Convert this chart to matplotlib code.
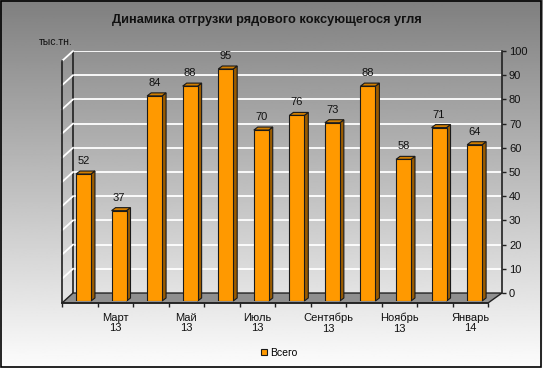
import numpy as np
import matplotlib
matplotlib.use("Agg")
import matplotlib.pyplot as plt
from matplotlib.patches import Polygon, Rectangle
from matplotlib.lines import Line2D

plt.rcParams['font.family'] = ['Liberation Sans', 'DejaVu Sans']

# ---- data ----
categories = ['Февраль\n13', 'Март\n13', 'Апрель\n13', 'Май\n13', 'Июнь\n13', 'Июль\n13',
              'Август\n13', 'Сентябрь\n13', 'Октябрь\n13', 'Ноябрь\n13', 'Декабрь\n13', 'Январь\n14']
values = [52, 37, 84, 88, 95, 70, 76, 73, 88, 58, 71, 64]
series_name = 'Всего'
title = 'Динамика отгрузки рядового коксующегося угля'
unit_label = 'тыс.тн.'
yticks = list(range(0, 101, 10))
label_step = 2

W, H = 543, 368
DPI = 100
fig = plt.figure(figsize=(W / DPI, H / DPI), dpi=DPI)

def fx(px):
    return px / W

def fy(py):
    return 1 - py / H

# background gradient
ax_bg = fig.add_axes([0, 0, 1, 1], zorder=-10)
grad = np.linspace(0.50, 0.99, 256).reshape(-1, 1)
ax_bg.imshow(grad, cmap='gray', vmin=0, vmax=1, aspect='auto', extent=[0, 1, 0, 1], origin='upper')
ax_bg.set_xlim(0, 1); ax_bg.set_ylim(0, 1)
ax_bg.axis('off')
ax_bg.add_patch(Rectangle((0.001, 0.003), 0.996, 0.995, fill=False, edgecolor='black', lw=1.2,
                          transform=ax_bg.transAxes))

n = len(values)

# back wall axes (gridlines + right value axis)
bl, br, bb, bt = 73, 502, 293, 51
ax_back = fig.add_axes([fx(bl), fy(bb), (br - bl) / W, (bb - bt) / H], zorder=1)
ax_back.patch.set_alpha(0)
ax_back.set_xlim(0, n)
ax_back.set_ylim(0, 100)
ax_back.set_yticks(yticks)
ax_back.yaxis.tick_right()
ax_back.tick_params(axis='y', direction='out', length=3, width=1, color='#202020',
                    labelsize=8, pad=2, labelcolor='#111111')
ax_back.set_xticks([])
ax_back.grid(axis='y', color='white', lw=1.3)
for s in ['top', 'bottom']:
    ax_back.spines[s].set_visible(False)
ax_back.spines['left'].set_color('#202020')
ax_back.spines['right'].set_color('#202020')
ax_back.spines['left'].set_linewidth(1.2)
ax_back.spines['right'].set_linewidth(1.2)

# front axes (floor front edge, left axis)
fl, fr, fb, ft = 62, 488, 303, 61
ax_front = fig.add_axes([fx(fl), fy(fb), (fr - fl) / W, (fb - ft) / H], zorder=2)
ax_front.patch.set_alpha(0)
ax_front.set_xlim(0, n)
ax_front.set_ylim(0, 100)
ax_front.set_yticks([])
ax_front.set_xticks(range(0, n + 1))
ax_front.set_xticklabels([])
ax_front.tick_params(axis='x', which='major', direction='out', length=3, color='#202020', width=1)
ax_front.set_xticks([i + 0.5 for i in range(n)], minor=True)
ax_front.set_xticklabels([c if i % label_step == 1 else '' for i, c in enumerate(categories)],
                         minor=True, fontsize=8, color='#111111', linespacing=1.05)
ax_front.tick_params(axis='x', which='minor', length=0, pad=7)
for s in ['top', 'right']:
    ax_front.spines[s].set_visible(False)
ax_front.spines['left'].set_color('#202020')
ax_front.spines['left'].set_linewidth(1.2)
ax_front.spines['bottom'].set_color('#202020')
ax_front.spines['bottom'].set_linewidth(1.2)

fig.canvas.draw()
tf = ax_front.transData
tb = ax_back.transData

# floor
p = [tf.transform((0, 0)), tf.transform((n, 0)), tb.transform((n, 0)), tb.transform((0, 0))]
ax_front.add_patch(Polygon(p, closed=True, facecolor='#8f8f8f', edgecolor='#202020', lw=1.0,
                           transform=None, clip_on=False, zorder=0.5))
# side wall diagonal gridlines
for v in yticks[1:]:
    a = tf.transform((0, v)); b = tb.transform((0, v))
    ax_front.add_line(Line2D([a[0], b[0]], [a[1], b[1]], color='white', lw=1.3,
                             transform=None, clip_on=False, zorder=0.4))

# bars
xb0, xb1, yb0, yb100 = 65.7, 492.4, 301, 56.8
ax = fig.add_axes([fx(xb0), fy(yb0), (xb1 - xb0) / W, (yb0 - yb100) / H], zorder=3)
ax.patch.set_alpha(0)
ax.set_xlim(-0.5, n - 0.5)
ax.set_ylim(0, 100)
ax.axis('off')
bw = 0.42
x = np.arange(n)
ax.bar(x, values, width=bw, color='#ff9900', edgecolor='#1a1a1a', linewidth=0.8, zorder=3)
fig.canvas.draw()
ta = ax.transData
dx, dy = 4, 3
for xi, v in zip(x, values):
    tl = ta.transform((xi - bw / 2, v)); tr = ta.transform((xi + bw / 2, v))
    brc = ta.transform((xi + bw / 2, 0))
    side = [brc, tr, tr + (dx, dy), brc + (dx, dy)]
    top = [tl, tr, tr + (dx, dy), tl + (dx, dy)]
    ax.add_patch(Polygon(side, closed=True, facecolor='#9a5b00', edgecolor='#1a1a1a', lw=0.8,
                         transform=None, clip_on=False, zorder=2.5))
    ax.add_patch(Polygon(top, closed=True, facecolor='#d27e00', edgecolor='#1a1a1a', lw=0.8,
                         transform=None, clip_on=False, zorder=2.5))
    ax.annotate(str(v), (xi, v), xytext=(0, 9.4), textcoords='offset points',
                ha='center', va='center', fontsize=8, color='#111111')

# texts
fig.text(fx(267), fy(20.5), title, ha='center', va='center', fontsize=9.2, fontweight='bold',
         color='#111111')
fig.text(fx(39), fy(42), unit_label, ha='left', va='center', fontsize=7.5, color='#111111')

# legend
h = Rectangle((0, 0), 1, 1, facecolor='#ff9900', edgecolor='#1a1a1a', lw=0.8)
fig.legend([h], [series_name], loc='center', bbox_to_anchor=(fx(279), fy(352.5)), frameon=False,
           fontsize=7.5, handlelength=0.55, handleheight=0.55, handletextpad=0.3)

fig.savefig('out.png', dpi=DPI)
